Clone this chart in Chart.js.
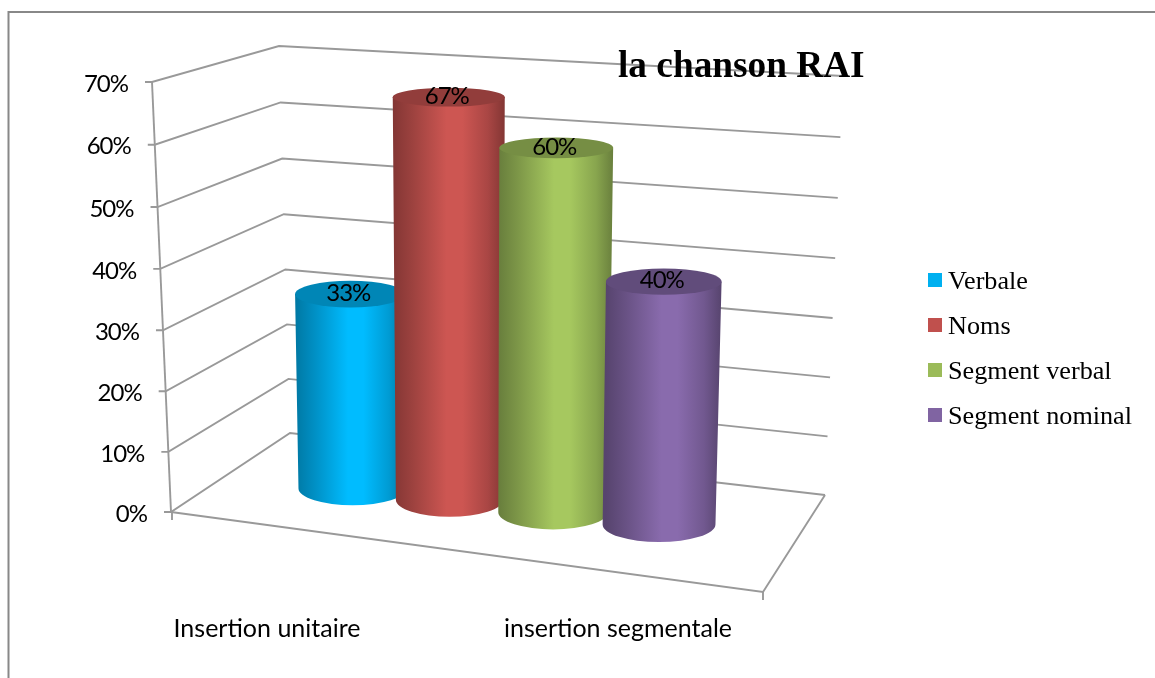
<!DOCTYPE html>
<html>
<head>
<meta charset="utf-8">
<style>
  html, body { margin: 0; padding: 0; background: #fff; }
  canvas { display: block; }
</style>
<script src="https://cdn.jsdelivr.net/npm/chart.js@4/dist/chart.umd.min.js"></script>
</head>
<body>
<canvas id="raiChart" width="1155" height="678"></canvas>
<script>
const categories = ['Insertion unitaire', 'insertion segmentale'];
const seriesNames = ['Verbale', 'Noms', 'Segment verbal', 'Segment nominal'];
const verbale = [33, null];
const noms = [67, null];
const segmentVerbal = [null, 60];
const segmentNominal = [null, 40];
const seriesColors = ['#00B0F0', '#C0504D', '#9BBB59', '#8064A2'];
const chartTitle = 'la chanson RAI';

const LINE = '#999999';
const AXIS_FONT = '24px Lato, sans-serif';
const LEGEND_FONT = '26.2px "Liberation Serif", serif';

// corners of the 3D box at 0% and 70%
const WALL = {
    front: { x0: 171, y0: 512, x1: 152, y1: 82 },
    backLeft: { x0: 290, y0: 433, x1: 279, y1: 46 },
    backRight: { x0: 825, y0: 495, x1: 843, y1: 76 }
};
const FLOOR_CORNER = { x: 763, y: 592 };
const X_LABEL_CENTERS = [267, 618];
const BAR_NUDGE = [0, -6, -3, 0];

function shade(hex, f) {
    const n = parseInt(hex.slice(1), 16);
    const c = [n >> 16, (n >> 8) & 255, n & 255].map(v => Math.min(255, Math.round(v * f)));
    return `rgb(${c[0]},${c[1]},${c[2]})`;
}

function wallPoint(corner, t) {
    const p = t / (t + 1.025 * (1 - t));
    return [corner.x0 + (corner.x1 - corner.x0) * p, corner.y0 + (corner.y1 - corner.y0) * p];
}

function line(ctx, pts) {
    ctx.beginPath();
    pts.forEach((p, i) => (i ? ctx.lineTo(p[0], p[1]) : ctx.moveTo(p[0], p[1])));
    ctx.stroke();
}

function drawCylinder(ctx, bar, color, index) {
    const cx = bar.x + BAR_NUDGE[index];
    const halfW = bar.width / 2 * (1 + (cx - 500) * 0.00015);
    const perspective = 1 - Math.max(0, 500 - cx) * 0.0002;
    const h = (bar.base - bar.y) * perspective;
    const baseY = bar.base + (cx - 555) * 0.115 - 1;
    const topY = baseY - h;
    const taper = 1 - h * 0.0001;
    const vx = 470;
    const left = cx - halfW, right = cx + halfW;
    const bl = vx + (left - vx) * taper, br = vx + (right - vx) * taper;
    const ryTop = 7.5 + 0.02 * topY;
    const ryBase = 7 + 0.02 * baseY;

    const grad = ctx.createLinearGradient(left, 0, right, 0);
    grad.addColorStop(0, shade(color, 0.68));
    grad.addColorStop(0.18, shade(color, 0.82));
    grad.addColorStop(0.48, shade(color, 1.07));
    grad.addColorStop(0.62, shade(color, 1.07));
    grad.addColorStop(0.85, shade(color, 0.88));
    grad.addColorStop(1, shade(color, 0.68));

    ctx.fillStyle = grad;
    ctx.beginPath();
    ctx.moveTo(left, topY);
    ctx.lineTo(bl, baseY);
    ctx.ellipse((bl + br) / 2, baseY, (br - bl) / 2, ryBase, 0, Math.PI, 0, true);
    ctx.lineTo(right, topY);
    ctx.closePath();
    ctx.fill();

    ctx.fillStyle = shade(color, 0.76);
    ctx.beginPath();
    ctx.ellipse(cx, topY, halfW, ryTop, 0, 0, Math.PI * 2);
    ctx.fill();

    return { x: cx - 2, y: topY - 1 };
}

const box3d = {
    id: 'box3d',
    beforeDraw(chart) {
        const { ctx, scales: { y } } = chart;
        ctx.save();
        ctx.fillStyle = '#fff';
        ctx.fillRect(0, 0, chart.width, chart.height);

        ctx.strokeStyle = '#888';
        ctx.lineWidth = 2;
        line(ctx, [[8.5, 678], [8.5, 12], [1155, 12]]);

        ctx.strokeStyle = LINE;
        ctx.lineWidth = 1.9;
        const height = y.getPixelForValue(0) - y.getPixelForValue(70);
        y.ticks.forEach(tick => {
            const t = (y.getPixelForValue(0) - y.getPixelForValue(tick.value)) / height;
            const f = wallPoint(WALL.front, t);
            line(ctx, [[f[0] - 7, f[1]], f, wallPoint(WALL.backLeft, t), wallPoint(WALL.backRight, t)]);
        });

        line(ctx, [wallPoint(WALL.front, 0), wallPoint(WALL.front, 1)]);
        const f0 = wallPoint(WALL.front, 0);
        line(ctx, [[f0[0] + 1, f0[1]], [f0[0] + 1, f0[1] + 8]]);
        line(ctx, [f0, [FLOOR_CORNER.x, FLOOR_CORNER.y], wallPoint(WALL.backRight, 0)]);
        line(ctx, [[FLOOR_CORNER.x, FLOOR_CORNER.y], [FLOOR_CORNER.x, FLOOR_CORNER.y + 8]]);
        ctx.restore();
    },
    beforeDatasetsDraw(chart) {
        const { ctx } = chart;
        const tops = [];
        ctx.save();
        chart.data.datasets.forEach((ds, i) => {
            const idx = ds.data.findIndex(v => v !== null);
            const bar = chart.getDatasetMeta(i).data[idx];
            tops.push({ pos: drawCylinder(ctx, bar, ds.backgroundColor, i), value: ds.data[idx] });
        });
        ctx.fillStyle = '#000';
        ctx.font = AXIS_FONT;
        ctx.letterSpacing = '-1px';
        ctx.textAlign = 'center';
        ctx.textBaseline = 'middle';
        tops.forEach(top => ctx.fillText(top.value + '%', top.pos.x, top.pos.y));
        ctx.restore();
        return false;
    },
    afterDraw(chart) {
        const { ctx, scales: { y } } = chart;
        const height = y.getPixelForValue(0) - y.getPixelForValue(70);
        ctx.save();
        ctx.fillStyle = '#000';

        ctx.font = AXIS_FONT;
        ctx.letterSpacing = '-1px';
        ctx.textAlign = 'right';
        ctx.textBaseline = 'middle';
        y.ticks.forEach(tick => {
            const t = (y.getPixelForValue(0) - y.getPixelForValue(tick.value)) / height;
            const f = wallPoint(WALL.front, t);
            ctx.fillText(tick.label, f[0] - 24, f[1] + 2);
        });

        ctx.letterSpacing = '0px';
        ctx.textAlign = 'center';
        ctx.textBaseline = 'alphabetic';
        ctx.font = '25px Lato, sans-serif';
        categories.forEach((c, i) => ctx.fillText(c, X_LABEL_CENTERS[i], 637));

        ctx.font = 'bold 37.3px "Liberation Serif", serif';
        ctx.textAlign = 'left';
        ctx.fillText(chartTitle, 618, 77);

        ctx.font = LEGEND_FONT;
        seriesNames.forEach((name, i) => {
            const base = 289 + i * 45;
            ctx.fillStyle = seriesColors[i];
            ctx.fillRect(928, base - 16, 14, 14);
            ctx.fillStyle = '#000';
            ctx.fillText(name, 948, base);
        });
        ctx.restore();
    }
};

new Chart(document.getElementById('raiChart'), {
    type: 'bar',
    data: {
        labels: categories,
        datasets: [verbale, noms, segmentVerbal, segmentNominal].map((values, i) => ({
            label: seriesNames[i],
            data: values,
            backgroundColor: seriesColors[i]
        }))
    },
    options: {
        responsive: false,
        animation: false,
        layout: { padding: { left: 298, right: 439, top: 88, bottom: 165 } },
        datasets: { bar: { skipNull: true, categoryPercentage: 1, barPercentage: 1.08 } },
        scales: {
            x: { display: false },
            y: {
                display: false,
                min: 0,
                max: 70,
                ticks: { stepSize: 10, callback: v => v + '%' }
            }
        },
        plugins: { legend: { display: false }, title: { display: false }, tooltip: { enabled: false } }
    },
    plugins: [box3d]
});
</script>
</body>
</html>
